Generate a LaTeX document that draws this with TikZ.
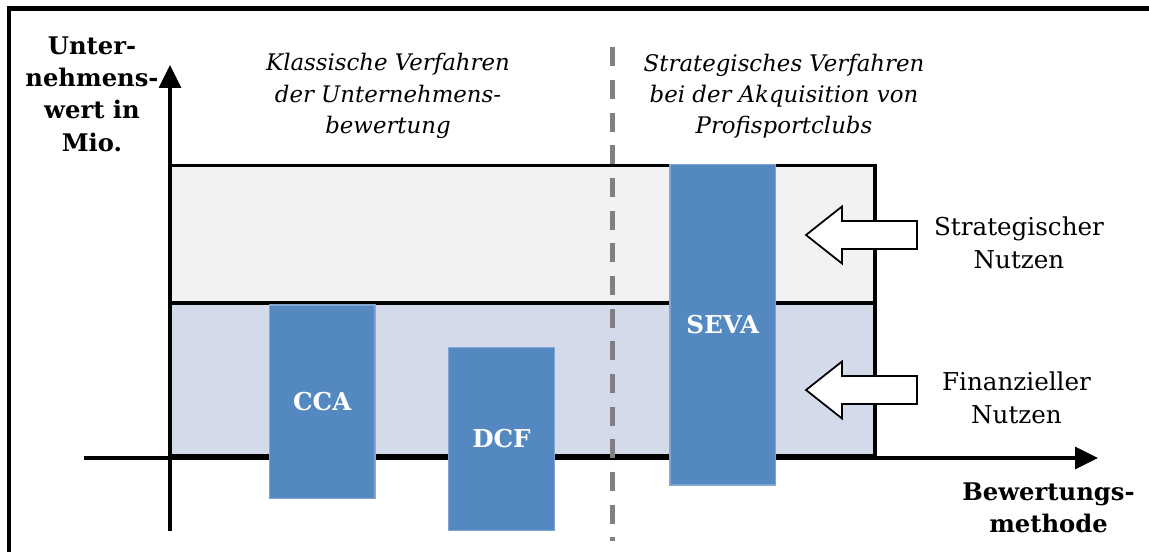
\documentclass[tikz,border=0pt]{standalone}
\usepackage{fontspec}
\setmainfont{DejaVu Serif}
\usetikzlibrary{arrows.meta}

\definecolor{stratfill}{RGB}{242,242,242}
\definecolor{finfill}{RGB}{211,218,233}
\definecolor{barblue}{RGB}{84,136,193}
\definecolor{baredge}{RGB}{130,165,210}
\definecolor{sepgray}{RGB}{128,128,128}

\begin{document}
\begin{tikzpicture}[
		axis/.style={line width=1.9pt, -{Triangle[length=4.6mm, width=4.4mm]}},
		bar/.style={rectangle, fill=barblue, draw=baredge, line width=0.6pt, inner sep=0pt,
			text=white, font=\fontsize{14}{17}\selectfont\bfseries},
		axislabel/.style={align=center, font=\fontsize{13.8}{18.4}\selectfont\bfseries},
		heading/.style={align=center, font=\fontsize{13}{17.8}\selectfont\itshape},
		side/.style={align=center, font=\fontsize{14}{18.6}\selectfont},
		benefit/.style={draw, fill=white, line width=1pt, line join=miter}
	]
  \useasboundingbox (0,0) rectangle (22.98,11.04);
  % frame
  \draw[line width=2.8pt] (0.17,10.87) -- (22.98,10.87);
  \draw[line width=1.9pt] (0.18,0) -- (0.18,10.92);

  % value areas
  \draw[line width=1.8pt, fill=stratfill] (3.40,4.98) rectangle (17.50,7.73);
  \draw[line width=1.8pt, fill=finfill] (3.40,1.93) rectangle (17.50,4.98);

  % axes
  \coordinate (y_start) at (3.40, 0.41);
  \coordinate (y_end) at (3.40, 9.74);
  \coordinate (x_start) at (1.67, 1.88);
  \coordinate (x_end) at (21.96, 1.88);
  \draw[axis] (y_start) -- (y_end);
  \draw[axis] (x_start) -- (x_end);

  % methods
  \node (CCA) [bar, minimum width=2.11cm, minimum height=3.87cm] at (6.445, 3.005) {CCA};
  \node (DCF) [bar, minimum width=2.12cm, minimum height=3.66cm] at (10.03, 2.26) {DCF};
  \node (SEVA) [bar, minimum width=2.11cm, minimum height=6.41cm] at (14.455, 4.545) {SEVA};

  % separator
  \coordinate (sep_top) at (12.25, 10.09);
  \coordinate (sep_bottom) at (12.25, 0.22);
  \draw[sepgray, line width=3pt, dash pattern=on 0.38cm off 0.273cm] (sep_top) -- (sep_bottom);

  % benefit arrows
  \foreach \y in {6.34, 3.24} {
    \draw[benefit] (16.12,\y) -- ++(0.72,0.57) -- ++(0,-0.29) -- ++(1.50,0)
      -- ++(0,-0.56) -- ++(-1.50,0) -- ++(0,-0.29) -- cycle;
  }

  % texts
  \node (y_label) [axislabel] at (1.84, 9.16) {Unter-\\nehmens-\\wert in\\Mio.};
  \node (x_label) [axislabel] at (20.97, 0.88) {Bewertungs-\\methode};
  \node (classic) [heading] at (7.76, 9.12) {Klassische Verfahren\\der Unternehmens-\\bewertung};
  \node (strategic) [heading] at (15.68, 9.12) {Strategisches Verfahren\\bei der Akquisition von\\Profisportclubs};
  \node (strat_benefit) [side] at (20.38, 6.19) {Strategischer\\Nutzen};
  \node (fin_benefit) [side] at (20.33, 3.09) {Finanzieller\\Nutzen};
\end{tikzpicture}
\end{document}
